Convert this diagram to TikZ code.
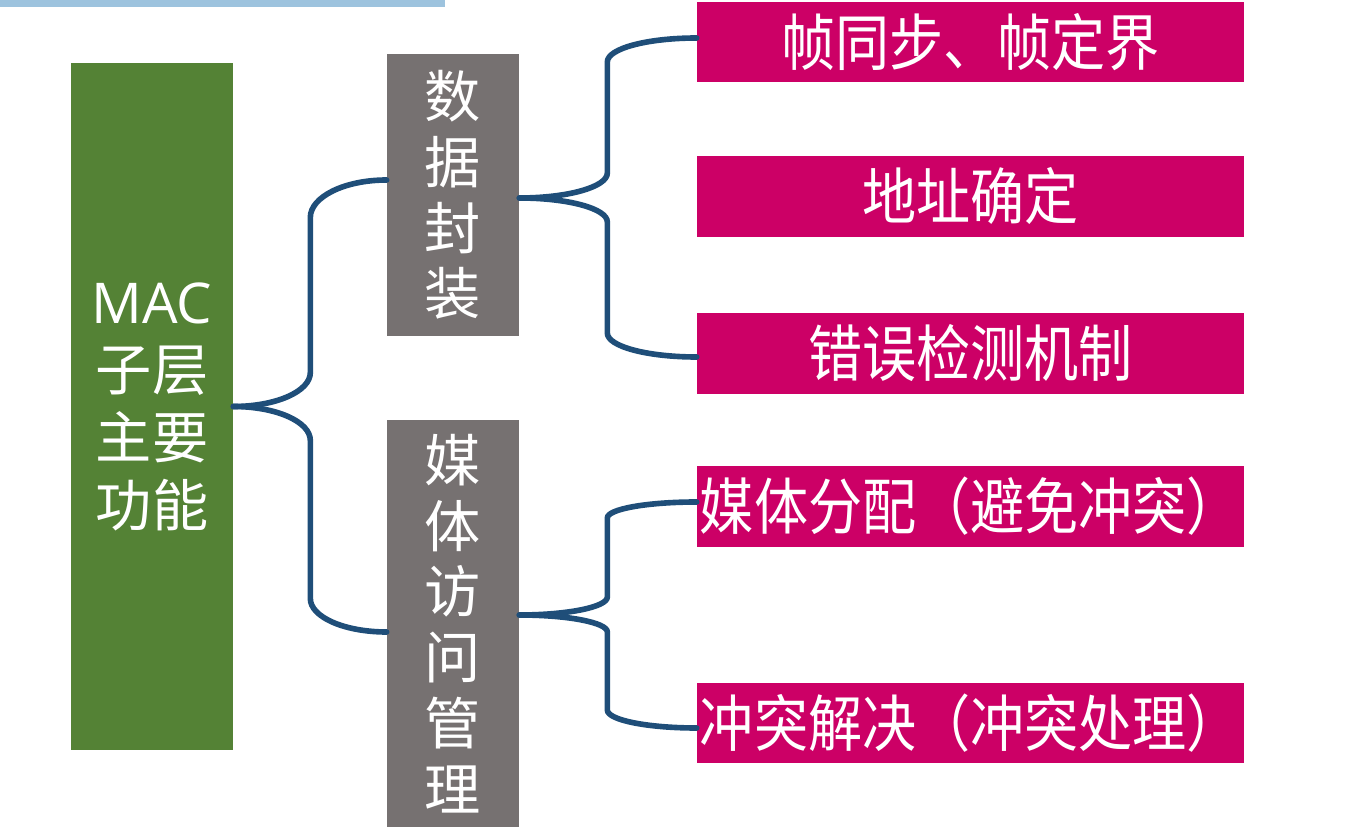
\documentclass[tikz,border=0pt]{standalone}
\usepackage{fontspec}
\setmainfont{Noto Sans CJK SC}
\newfontfamily\latinfont{Open Sans}
\newfontfamily\cjktall[FakeStretch=0.88]{Noto Sans CJK SC}
\usetikzlibrary{positioning}
\definecolor{macgreen}{RGB}{84,130,53}
\definecolor{subgray}{RGB}{118,113,113}
\definecolor{itemred}{RGB}{204,0,102}
\definecolor{bracecol}{RGB}{31,78,121}
\definecolor{titleblue}{RGB}{157,195,222}

\begin{document}
\begin{tikzpicture}[x=0.02cm, y=-0.02cm,
    mainbox/.style={fill=macgreen, text=white, minimum width=3.24cm, minimum height=13.74cm,
        align=center, inner sep=0pt, font=\fontsize{32}{38.5}\selectfont},
    subbox/.style={fill=subgray, text=white, minimum width=2.64cm,
        align=center, inner sep=0pt, font=\fontsize{32}{37.4}\selectfont},
    itembox/.style={fill=itemred, text=white, minimum width=10.94cm, minimum height=1.62cm,
        inner sep=0pt, font=\cjktall\fontsize{35}{40}\selectfont},
    brace/.style={draw=bracecol, line width=3.2pt, line cap=round}]
    \useasboundingbox (0,0) rectangle (1347,827);
    \fill[titleblue] (0,0) rectangle (445,7.5);

    % Nodes
    \node[mainbox] (mac) at (152,406.5) {{\latinfont MAC}\\子层\\主要\\功能};
    \node[subbox, minimum height=5.64cm] (pack) at (453,195) {数\\据\\封\\装};
    \node[subbox, minimum height=8.14cm] (access) at (453,623.5) {媒\\体\\访\\问\\管\\理};
    \node[itembox] (frame) at (970.5,42) {帧同步、帧定界};
    \node[itembox] (addr) at (970.5,196.5) {地址确定};
    \node[itembox] (err) at (970.5,353.5) {错误检测机制};
    \node[itembox] (alloc) at (970.5,506.5) {媒体分配（避免冲突）};
    \node[itembox] (resolve) at (970.5,723) {冲突解决（冲突处理）};

    % Braces
    \draw[brace] (mac.east) to[out=0,in=-90,out distance=0.85cm,in distance=0.38cm] ++(77,-34)
        -- ++(0,-155) to[out=90,in=180,out distance=0.41cm,in distance=0.85cm] ([yshift=0.3cm]pack.west);
    \draw[brace] (mac.east) to[out=0,in=90,out distance=0.85cm,in distance=0.38cm] ++(77,34)
        -- ++(0,158) to[out=-90,in=180,out distance=0.37cm,in distance=0.85cm] ([yshift=-0.17cm]access.west);
    \draw[brace] ([yshift=-0.06cm]pack.east) to[out=0,in=-90,out distance=0.97cm,in distance=0.28cm] ++(88,-25)
        -- ++(0,-111) to[out=90,in=180,out distance=0.27cm,in distance=0.99cm] ([yshift=0.08cm]frame.west);
    \draw[brace] ([yshift=-0.06cm]pack.east) to[out=0,in=90,out distance=0.97cm,in distance=0.27cm] ++(88,24)
        -- ++(0,111) to[out=-90,in=180,out distance=0.27cm,in distance=0.99cm] ([yshift=-0.07cm]err.west);
    \draw[brace] ([yshift=0.17cm]access.east) to[out=0,in=-90,out distance=0.97cm,in distance=0.2cm] ++(88,-18)
        -- ++(0,-79) to[out=90,in=180,out distance=0.18cm,in distance=0.99cm] ([yshift=0.09cm]alloc.west);
    \draw[brace] ([yshift=0.17cm]access.east) to[out=0,in=90,out distance=0.97cm,in distance=0.19cm] ++(88,17)
        -- ++(0,78) to[out=-90,in=180,out distance=0.2cm,in distance=0.99cm] ([yshift=-0.1cm]resolve.west);
\end{tikzpicture}
\end{document}
